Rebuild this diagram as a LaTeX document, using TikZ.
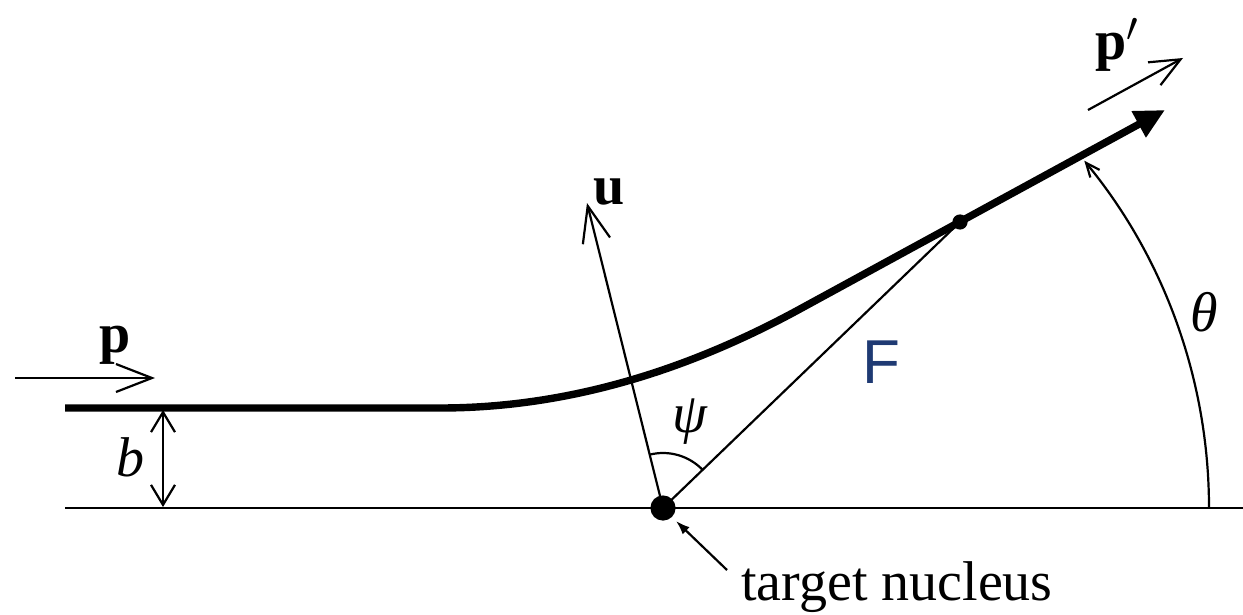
\documentclass[tikz,border=0pt]{standalone}
\usepackage{fontspec}
\setmainfont{Liberation Serif}
\newfontfamily\fsans{Liberation Sans}
\usetikzlibrary{arrows.meta}
\definecolor{fblue}{RGB}{31,58,115}
\begin{document}
\begin{tikzpicture}[x=0.5pt,y=0.5pt,
  thinline/.style={line width=1.1pt},
  lbl/.style={inner sep=0pt, font=\fontsize{28}{31}\selectfont},
  barb/.style={-{Straight Barb[length=18pt,width=14pt,line width=1.1pt]}},
  dblbarb/.style={{Straight Barb[length=10pt,width=12pt,line width=1.1pt]}-{Straight Barb[length=10pt,width=12pt,line width=1.1pt]}}]
\useasboundingbox (0,-615) rectangle (1243,0);
% coordinates
\coordinate (nuc) at (663,-508);
\coordinate (bl) at (65,-508);
\coordinate (br) at (1243,-508);
\coordinate (t0) at (65,-408);
\coordinate (t1) at (440,-408);
\coordinate (t2) at (800,-309);
\coordinate (ttip) at (1165,-110);
\coordinate (dot) at (960,-222);
\coordinate (utip) at (587,-203);
\coordinate (pa) at (15,-378);
\coordinate (pb) at (155,-378);
\coordinate (ppa) at (1088,-110);
\coordinate (ppb) at (1183,-58);
\coordinate (btop) at (163,-410);
\coordinate (bbot) at (163,-507);
\coordinate (tarrow) at (727,-570);
\coordinate (ttarget) at (676,-521);
% baseline
\draw[line width=1.2pt] (bl) -- (br);
% trajectory
\draw[line width=3.7pt, -{Triangle[length=15pt,width=14pt]}]
  (t0) -- (t1) .. controls (570,-408) and (690,-369) .. (t2) -- (ttip);
\fill (dot) circle[radius=3.8pt];
% nucleus
\fill (nuc) circle[radius=6.3pt];
% F line
\draw[thinline] (nuc) -- (dot);
% u vector
\draw[thinline, barb] (nuc) -- (utip);
% psi arc
\draw[thinline] (nuc) ++(44:27.5pt) arc[start angle=44, end angle=104, radius=27.5pt];
% theta arc
\draw[thinline, -{Straight Barb[length=7pt,width=6pt,line width=1.1pt]}] (nuc) ++(0:273pt) arc[start angle=0, end angle=39.5, radius=273pt];
% b arrow
\draw[thinline, dblbarb] (btop) -- (bbot);
% p arrows
\draw[thinline, barb] (pa) -- (pb);
\draw[thinline, -{Straight Barb[length=15pt,width=13pt,line width=1.1pt]}] (ppa) -- (ppb);
% target arrow
\draw[thinline, -{Latex[length=7pt,width=5pt]}] (tarrow) -- (ttarget);
% labels
\node[lbl] (lp) at (115,-345) {\textbf{p}};
\node[lbl] (lpp) at (1117,-45) {\textbf{p}$^{\prime}$};
\node[lbl] (lu) at (609,-192) {\textbf{u}};
\node[lbl] (lb) at (130,-457) {\itshape b};
\node[lbl] (lpsi) at (690,-422) {\itshape ψ};
\node[lbl] (lth) at (1204,-312) {\itshape θ};
\node[inner sep=0pt, font=\fsans\fontsize{31}{34}\selectfont, text=fblue] (lF) at (881,-362) {F};
\node[lbl, anchor=base] (ltn) at (897,-600) {target nucleus};
\end{tikzpicture}
\end{document}
